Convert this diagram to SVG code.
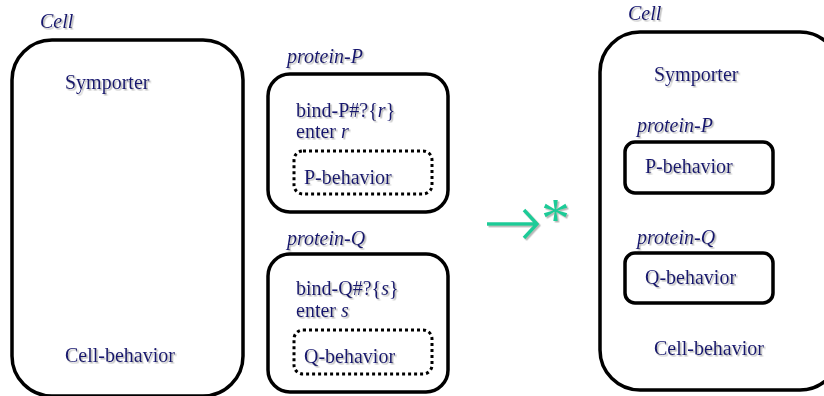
<svg xmlns="http://www.w3.org/2000/svg" width="824" height="396" viewBox="0 0 824 396">
<defs>
<filter id="sh" x="-10%" y="-10%" width="130%" height="150%">
<feDropShadow dx="1.5" dy="1.5" stdDeviation="0.4" flood-color="#999" flood-opacity="0.7"/>
</filter>
</defs>
<style>
text{font-family:"Liberation Serif","Times New Roman",serif;fill:#16166e;font-size:20px;filter:url(#sh)}
.lab{font-style:italic}
.box{fill:none;stroke:#000;stroke-width:3.5}
.dot{fill:none;stroke:#000;stroke-width:3;stroke-dasharray:3 3}
.arr{fill:none;stroke:#1fcb98;stroke-width:3.5}
</style>
<rect width="824" height="396" fill="#fff"/>
<g id="cell-left">
<text class="lab" x="40" y="28">Cell</text>
<rect class="box" x="12" y="40" width="231" height="356" rx="40"/>
<text x="65" y="89">Symporter</text>
<text x="65" y="362">Cell-behavior</text>
</g>
<g id="protein-P">
<text class="lab" x="287" y="63">protein-P</text>
<rect class="box" x="268" y="74" width="180" height="138" rx="22"/>
<text x="296" y="117">bind-P#?{<tspan font-style="italic">r</tspan>}</text>
<text x="296" y="138">enter <tspan font-style="italic">r</tspan></text>
<rect class="dot" x="294" y="151" width="138" height="43" rx="9"/>
<text x="304" y="184">P-behavior</text>
</g>
<g id="protein-Q">
<text class="lab" x="287" y="245">protein-Q</text>
<rect class="box" x="268" y="254" width="180" height="138" rx="22"/>
<text x="296" y="295">bind-Q#?{<tspan font-style="italic">s</tspan>}</text>
<text x="296" y="317">enter <tspan font-style="italic">s</tspan></text>
<rect class="dot" x="294" y="330" width="138" height="44" rx="9"/>
<text x="304" y="363">Q-behavior</text>
</g>
<g id="connectors">
<g filter="url(#sh)">
<path class="arr" d="M487 224 H536 M524 210 L537 224 L524 238"/>
</g>
<text x="541" y="238" style="font-size:58px;fill:#1fcb98">*</text>
</g>
<g id="cell-right">
<text class="lab" x="628" y="20">Cell</text>
<rect class="box" x="600" y="32" width="240" height="358" rx="40"/>
<text x="654" y="81">Symporter</text>
<g id="protein-P-in">
<text class="lab" x="637" y="132">protein-P</text>
<rect class="box" x="625" y="142" width="148" height="51" rx="10"/>
<text x="645" y="173">P-behavior</text>
</g>
<g id="protein-Q-in">
<text class="lab" x="637" y="244">protein-Q</text>
<rect class="box" x="625" y="253" width="148" height="50" rx="10"/>
<text x="645" y="284">Q-behavior</text>
</g>
<text x="654" y="355">Cell-behavior</text>
</g>
</svg>
